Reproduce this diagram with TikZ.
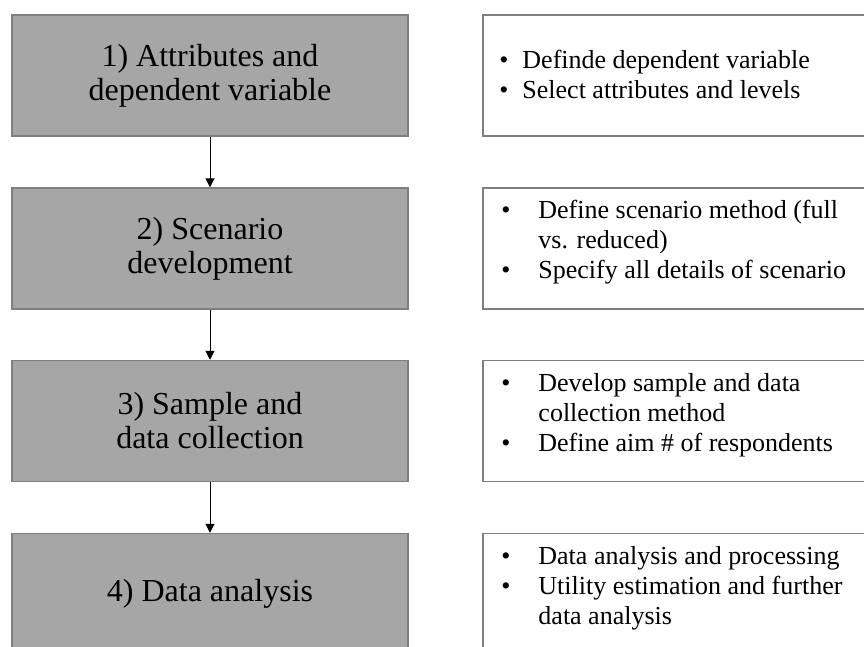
\documentclass[tikz,border=0pt]{standalone}
\usepackage{fontspec}
\setmainfont{Liberation Serif}
\usetikzlibrary{arrows.meta}
\definecolor{stepfill}{RGB}{166,166,166}
\definecolor{stepline}{RGB}{127,127,127}

\begin{document}
\begin{tikzpicture}[x=1pt, y=-1pt,
    stepbox/.style={draw=stepline, line width=1.5pt, fill=stepfill, minimum width=396pt,
      minimum height=121pt, inner sep=0pt, align=center, font=\fontsize{32}{34}\selectfont},
    notebox/.style={draw=stepline, line width=1.5pt, fill=white, minimum width=400pt,
      minimum height=121pt, inner sep=0pt},
    notetext/.style={anchor=west, inner sep=0pt, align=left, font=\fontsize{26}{30}\selectfont},
    flow/.style={-{Triangle[width=9pt,length=9pt]}, line width=1pt}]
    \useasboundingbox (0,0) rectangle (864,646);
    \clip (0,0) rectangle (864,646);
    % steps
    \node [stepbox] (s1) at (210,75.5) {1) Attributes and\\dependent variable};
    \node [stepbox] (s2) at (210,248.5) {2) Scenario\\development};
    \node [stepbox] (s3) at (210,421) {3) Sample and\\data collection};
    \node [stepbox] (s4) at (210,594) {4) Data analysis};
    \draw [flow] (s1) -- (s2);
    \draw [flow] (s2) -- (s3);
    \draw [flow] (s3) -- (s4);
    % notes
    \node [notebox] (n1) at (683,75.5) {};
    \node [notebox] (n2) at (683,248.5) {};
    \node [notebox] (n3) at (683,421) {};
    \node [notebox] (n4) at (683,594) {};
    \node [notetext] (n1t) at ([xshift=17pt,yshift=-2pt]n1.west) {\begin{tabular}{@{}p{23pt}@{}l@{}}
      \textbullet & Definde dependent variable\\
      \textbullet & Select attributes and levels
    \end{tabular}};
    \node [notetext] (n2t) at ([xshift=19pt,yshift=6pt]n2.west) {\begin{tabular}{@{}p{37pt}@{}l@{}}
      \textbullet & Define scenario method (full\\
      & vs. reduced)\\
      \textbullet & Specify all details of scenario
    \end{tabular}};
    \node [notetext] (n3t) at ([xshift=19pt,yshift=6pt]n3.west) {\begin{tabular}{@{}p{37pt}@{}l@{}}
      \textbullet & Develop sample and data\\
      & collection method\\
      \textbullet & Define aim \# of respondents
    \end{tabular}};
    \node [notetext] (n4t) at ([xshift=19pt,yshift=6pt]n4.west) {\begin{tabular}{@{}p{37pt}@{}l@{}}
      \textbullet & Data analysis and processing\\
      \textbullet & Utility estimation and further\\
      & data analysis
    \end{tabular}};
\end{tikzpicture}
\end{document}
